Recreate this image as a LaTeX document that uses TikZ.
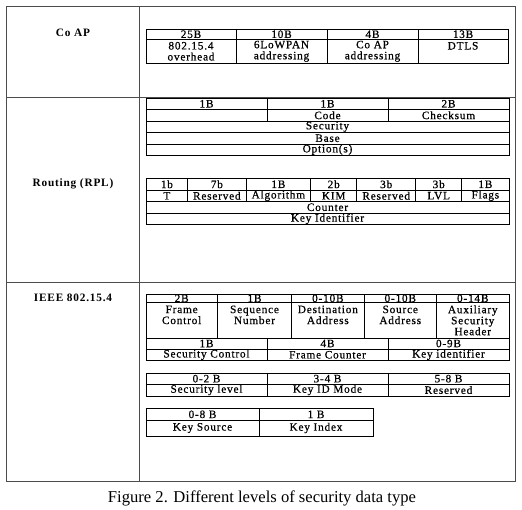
\documentclass[tikz,border=0pt]{standalone}
\usepackage{fontspec}
\setmainfont{Liberation Serif}
\newfontfamily\tabfont{Liberation Serif}[LetterSpace=7]
\newfontfamily\cellfont{Liberation Serif}[LetterSpace=7,FakeBold=0.6]
\tikzset{
  cellbox/.style={draw=black, line width=1pt, inner sep=0pt, align=center,
    font=\cellfont\fontsize{11.3}{11}\selectfont},
  outerline/.style={draw=black!70, line width=1pt},
  rowlabel/.style={font=\tabfont\bfseries\fontsize{11.3}{11}\selectfont, inner sep=0pt},
  captiontext/.style={font=\fontsize{16.6}{18}\selectfont, inner sep=0pt}
}
\newcommand\mycell[6]{%
  \pgfmathsetmacro\cw{#4-#2}\pgfmathsetmacro\ch{#5-#3}%
  \pgfmathsetmacro\cx{(#2+#4)/2}\pgfmathsetmacro\cy{(#3+#5)/2}%
  \node[cellbox, minimum width=\cw pt, minimum height=\ch pt] (#1) at (\cx,\cy) {#6};}
\begin{document}
\begin{tikzpicture}[x=1pt,y=-1pt]
\useasboundingbox (0,0) rectangle (522,509);
% outer grid
\coordinate (tl) at (6.5,6);
\coordinate (br) at (515,481.7);
\draw[outerline] (tl) rectangle (br);
\draw[outerline] (139,6) -- (139,481.7);
\draw[outerline] (6.5,97) -- (515,97);
\draw[outerline] (6.5,282) -- (515,282);
% row labels
\node[rowlabel] (lcoap) at (73,33) {Co AP};
\node[rowlabel] (lrpl) at (73,184) {Routing (RPL)};
\node[rowlabel] (lieee) at (73,298) {IEEE 802.15.4};
% Co AP table
\mycell{ca1}{146}{29}{236}{39.5}{25B}
\mycell{ca2}{236}{29}{327}{39.5}{10B}
\mycell{ca3}{327}{29}{418}{39.5}{4B}
\mycell{ca4}{418}{29}{508}{39.5}{13B}
\mycell{cb1}{146}{39.5}{236}{63}{802.15.4\\overhead}
\mycell{cb2}{236}{39.5}{327}{63}{6LoWPAN\\addressing}
\mycell{cb3}{327}{39.5}{418}{63}{Co AP\\addressing}
\mycell{cb4}{418}{39.5}{508}{63}{DTLS\\~}
% RPL table 1
\mycell{ra1}{146}{98}{267}{109.5}{1B}
\mycell{ra2}{267}{98}{388}{109.5}{1B}
\mycell{ra3}{388}{98}{509}{109.5}{2B}
\mycell{rb1}{146}{109.5}{267}{121}{}
\mycell{rb2}{267}{109.5}{388}{121}{Code}
\mycell{rb3}{388}{109.5}{509}{121}{Checksum}
\mycell{rc}{146}{121}{509}{132.5}{Security}
\mycell{rd}{146}{132.5}{509}{144}{Base}
\mycell{re}{146}{144}{509}{155.3}{Option(s)}
% RPL table 2
\mycell{sa1}{146}{178.5}{187.7}{190}{1b}
\mycell{sa2}{187.7}{178.5}{246}{190}{7b}
\mycell{sa3}{246}{178.5}{310.7}{190}{1B}
\mycell{sa4}{310.7}{178.5}{356.7}{190}{2b}
\mycell{sa5}{356.7}{178.5}{415.7}{190}{3b}
\mycell{sa6}{415.7}{178.5}{461.7}{190}{3b}
\mycell{sa7}{461.7}{178.5}{509}{190}{1B}
\mycell{sb1}{146}{190}{187.7}{201.5}{T}
\mycell{sb2}{187.7}{190}{246}{201.5}{Reserved}
\mycell{sb3}{246}{190}{310.7}{201.5}{Algorithm}
\mycell{sb4}{310.7}{190}{356.7}{201.5}{KIM}
\mycell{sb5}{356.7}{190}{415.7}{201.5}{Reserved}
\mycell{sb6}{415.7}{190}{461.7}{201.5}{LVL}
\mycell{sb7}{461.7}{190}{509}{201.5}{Flags}
\mycell{sc}{146}{201.5}{509}{213}{Counter}
\mycell{sd}{146}{213}{509}{224.7}{Key Identifier}
% IEEE table 1
\mycell{ia1}{146}{294}{217.3}{302.7}{2B}
\mycell{ia2}{217.3}{294}{291.7}{302.7}{1B}
\mycell{ia3}{291.7}{294}{364}{302.7}{0-10B}
\mycell{ia4}{364}{294}{436.5}{302.7}{0-10B}
\mycell{ia5}{436.5}{294}{509}{302.7}{0-14B}
\mycell{ib1}{146}{302.7}{217.3}{338}{Frame\\Control\\~}
\mycell{ib2}{217.3}{302.7}{291.7}{338}{Sequence\\Number\\~}
\mycell{ib3}{291.7}{302.7}{364}{338}{Destination\\Address\\~}
\mycell{ib4}{364}{302.7}{436.5}{338}{Source\\Address\\~}
\mycell{ib5}{436.5}{302.7}{509}{338}{Auxiliary\\Security\\Header}
\mycell{ic1}{146}{338}{267}{349}{1B}
\mycell{ic2}{267}{338}{388}{349}{4B}
\mycell{ic3}{388}{338}{509}{349}{0-9B}
\mycell{id1}{146}{349}{267}{360.5}{Security Control}
\mycell{id2}{267}{349}{388}{360.5}{Frame Counter}
\mycell{id3}{388}{349}{509}{360.5}{Key identifier}
% IEEE table 2
\mycell{ja1}{146}{373.3}{267}{384}{0-2 B}
\mycell{ja2}{267}{373.3}{388}{384}{3-4 B}
\mycell{ja3}{388}{373.3}{509}{384}{5-8 B}
\mycell{jb1}{146}{384}{267}{396}{Security level}
\mycell{jb2}{267}{384}{388}{396}{Key ID Mode}
\mycell{jb3}{388}{384}{509}{396}{Reserved}
% IEEE table 3
\mycell{ka1}{146}{408.7}{259}{420}{0-8 B}
\mycell{ka2}{259}{408.7}{373}{420}{1 B}
\mycell{kb1}{146}{420}{259}{436}{Key Source}
\mycell{kb2}{259}{420}{373}{436}{Key Index}
% caption
\node[captiontext] (cap) at (262,498) {Figure 2. Different levels of security data type};
\end{tikzpicture}
\end{document}
